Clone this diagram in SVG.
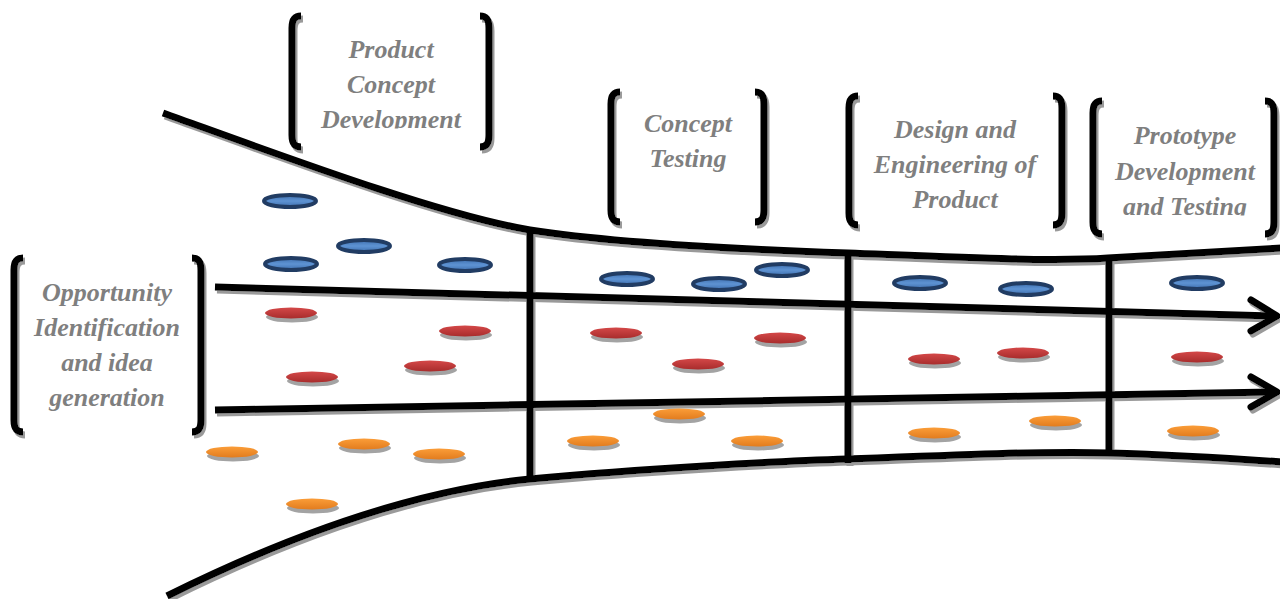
<svg xmlns="http://www.w3.org/2000/svg" width="1280" height="599" viewBox="0 0 1280 599">
  <style>
    .ln { fill: none; stroke: #000; stroke-width: 7; stroke-linejoin: round; }
    .br { fill: none; stroke: #000; stroke-width: 7; stroke-linecap: butt; }
    .lbl { font-family: "Liberation Serif", "Times New Roman", serif; font-size: 26px; font-weight: bold; font-style: italic; fill: #7f7f7f; text-anchor: middle; }
    .blue { fill: url(#gBlue); stroke: #213c63; stroke-width: 4; }
    .red { fill: url(#gRed); }
    .orange { fill: url(#gOrange); }
    .sh { fill: #a3a3a3; }
  </style>
  <defs>
    <filter id="drop" x="-5%" y="-5%" width="110%" height="110%">
      <feDropShadow dx="2" dy="3" stdDeviation="0.7" flood-color="#9a9a9a" flood-opacity="1"/>
    </filter>
    <linearGradient id="gBlue" x1="0" y1="0" x2="0" y2="1">
      <stop offset="0" stop-color="#3e6fae"/>
      <stop offset="0.5" stop-color="#5e93d3"/>
      <stop offset="1" stop-color="#3e6fae"/>
    </linearGradient>
    <linearGradient id="gRed" x1="0" y1="0" x2="0" y2="1">
      <stop offset="0" stop-color="#d44848"/>
      <stop offset="1" stop-color="#a82c2c"/>
    </linearGradient>
    <linearGradient id="gOrange" x1="0" y1="0" x2="0" y2="1">
      <stop offset="0" stop-color="#fb9d38"/>
      <stop offset="1" stop-color="#e27c1e"/>
    </linearGradient>
    <clipPath id="clipPCD"><rect x="280" y="0" width="220" height="128.5"/></clipPath>
    <clipPath id="clipPDT"><rect x="1085" y="90" width="195" height="125.5"/></clipPath>
  </defs>

  <rect width="1280" height="599" fill="#fff"/>

  <!-- funnel walls, stage dividers and flow arrows -->
  <g id="connectors" filter="url(#drop)">
    <path class="ln" d="M163,113 C280,155 440,215 530,230 C620,244 760,250 848,253 C950,257 1050,262 1108,258 C1180,254 1240,250 1282,248"/>
    <path class="ln" d="M167,596 C300,530 420,490 530,479 C640,469 780,461 848,459 C950,455 1050,451 1108,453 C1180,455 1240,459 1282,462"/>
    <line class="ln" x1="530" y1="230" x2="530" y2="482"/>
    <line class="ln" x1="848" y1="252" x2="848" y2="463"/>
    <line class="ln" x1="1109" y1="258" x2="1109" y2="456"/>
    <path class="ln" d="M215,287 L1273,316"/>
    <path class="ln" d="M1251,300 L1277,316 L1251,331" stroke-linecap="round"/>
    <path class="ln" d="M215,410 L1273,392"/>
    <path class="ln" d="M1251,377 L1277,392 L1251,407" stroke-linecap="round"/>
  </g>

  <!-- stage labels in brackets -->
  <g id="opportunity">
    <g filter="url(#drop)">
      <path class="br" d="M23,258 C16,258 14,262 14,270 L14,420 C14,428 16,432 23,432"/>
      <path class="br" d="M192,258 C199,258 201,262 201,270 L201,420 C201,428 199,432 192,432"/>
    </g>
    <text class="lbl" x="107" y="301">Opportunity</text>
    <text class="lbl" x="107" y="336">Identification</text>
    <text class="lbl" x="107" y="371">and idea</text>
    <text class="lbl" x="107" y="406">generation</text>
  </g>

  <g id="product-concept">
    <g filter="url(#drop)">
      <path class="br" d="M301,16 C294,16 292,20 292,28 L292,135 C292,143 294,147 301,147"/>
      <path class="br" d="M480,16 C487,16 489,20 489,28 L489,135 C489,143 487,147 480,147"/>
    </g>
    <g clip-path="url(#clipPCD)">
      <text class="lbl" x="391" y="58">Product</text>
      <text class="lbl" x="391" y="93">Concept</text>
      <text class="lbl" x="391" y="128">Development</text>
    </g>
  </g>

  <g id="concept-testing">
    <g filter="url(#drop)">
      <path class="br" d="M620,92 C613,92 611,96 611,104 L611,210 C611,218 613,222 620,222"/>
      <path class="br" d="M755,92 C762,92 764,96 764,104 L764,210 C764,218 762,222 755,222"/>
    </g>
    <text class="lbl" x="688" y="132">Concept</text>
    <text class="lbl" x="688" y="167">Testing</text>
  </g>

  <g id="design-engineering">
    <g filter="url(#drop)">
      <path class="br" d="M858,96 C851,96 849,100 849,108 L849,213 C849,221 851,225 858,225"/>
      <path class="br" d="M1053,96 C1060,96 1062,100 1062,108 L1062,213 C1062,221 1060,225 1053,225"/>
    </g>
    <text class="lbl" x="955" y="138">Design and</text>
    <text class="lbl" x="955" y="173">Engineering of</text>
    <text class="lbl" x="955" y="208">Product</text>
  </g>

  <g id="prototype">
    <g filter="url(#drop)">
      <path class="br" d="M1102,101 C1095,101 1093,105 1093,113 L1093,222 C1093,230 1095,234 1102,234"/>
      <path class="br" d="M1265,101 C1272,101 1274,105 1274,113 L1274,222 C1274,230 1272,234 1265,234"/>
    </g>
    <g clip-path="url(#clipPDT)">
      <text class="lbl" x="1185" y="144">Prototype</text>
      <text class="lbl" x="1185" y="180">Development</text>
      <text class="lbl" x="1185" y="215">and Testing</text>
    </g>
  </g>

  <!-- ideas flowing through the funnel -->
  <g id="ideas-blue">
    <ellipse class="blue" cx="290" cy="201" rx="26" ry="6"/>
    <ellipse class="blue" cx="364" cy="246" rx="26" ry="6"/>
    <ellipse class="blue" cx="291" cy="264" rx="26" ry="6"/>
    <ellipse class="blue" cx="465" cy="265" rx="26" ry="6"/>
    <ellipse class="blue" cx="627" cy="279" rx="26" ry="6"/>
    <ellipse class="blue" cx="719" cy="284" rx="26" ry="6"/>
    <ellipse class="blue" cx="782" cy="270" rx="26" ry="6"/>
    <ellipse class="blue" cx="920" cy="283" rx="26" ry="6"/>
    <ellipse class="blue" cx="1026" cy="289" rx="26" ry="6"/>
    <ellipse class="blue" cx="1197" cy="283" rx="26" ry="6"/>
  </g>

  <g id="ideas-red">
    <g class="sh">
      <ellipse cx="292" cy="317" rx="26" ry="5.5"/>
      <ellipse cx="466" cy="335" rx="26" ry="5.5"/>
      <ellipse cx="313" cy="381" rx="26" ry="5.5"/>
      <ellipse cx="431" cy="370" rx="26" ry="5.5"/>
      <ellipse cx="617" cy="337" rx="26" ry="5.5"/>
      <ellipse cx="699" cy="368" rx="26" ry="5.5"/>
      <ellipse cx="781" cy="342" rx="26" ry="5.5"/>
      <ellipse cx="935" cy="363" rx="26" ry="5.5"/>
      <ellipse cx="1024" cy="357" rx="26" ry="5.5"/>
      <ellipse cx="1198" cy="361" rx="26" ry="5.5"/>
    </g>
    <ellipse class="red" cx="291" cy="313" rx="26" ry="5.5"/>
    <ellipse class="red" cx="465" cy="331" rx="26" ry="5.5"/>
    <ellipse class="red" cx="312" cy="377" rx="26" ry="5.5"/>
    <ellipse class="red" cx="430" cy="366" rx="26" ry="5.5"/>
    <ellipse class="red" cx="616" cy="333" rx="26" ry="5.5"/>
    <ellipse class="red" cx="698" cy="364" rx="26" ry="5.5"/>
    <ellipse class="red" cx="780" cy="338" rx="26" ry="5.5"/>
    <ellipse class="red" cx="934" cy="359" rx="26" ry="5.5"/>
    <ellipse class="red" cx="1023" cy="353" rx="26" ry="5.5"/>
    <ellipse class="red" cx="1197" cy="357" rx="26" ry="5.5"/>
  </g>

  <g id="ideas-orange">
    <g class="sh">
      <ellipse cx="233" cy="456" rx="26" ry="5.5"/>
      <ellipse cx="365" cy="448" rx="26" ry="5.5"/>
      <ellipse cx="440" cy="458" rx="26" ry="5.5"/>
      <ellipse cx="313" cy="508" rx="26" ry="5.5"/>
      <ellipse cx="594" cy="445" rx="26" ry="5.5"/>
      <ellipse cx="680" cy="418" rx="26" ry="5.5"/>
      <ellipse cx="758" cy="445" rx="26" ry="5.5"/>
      <ellipse cx="935" cy="437" rx="26" ry="5.5"/>
      <ellipse cx="1056" cy="425" rx="26" ry="5.5"/>
      <ellipse cx="1194" cy="435" rx="26" ry="5.5"/>
    </g>
    <ellipse class="orange" cx="232" cy="452" rx="26" ry="5.5"/>
    <ellipse class="orange" cx="364" cy="444" rx="26" ry="5.5"/>
    <ellipse class="orange" cx="439" cy="454" rx="26" ry="5.5"/>
    <ellipse class="orange" cx="312" cy="504" rx="26" ry="5.5"/>
    <ellipse class="orange" cx="593" cy="441" rx="26" ry="5.5"/>
    <ellipse class="orange" cx="679" cy="414" rx="26" ry="5.5"/>
    <ellipse class="orange" cx="757" cy="441" rx="26" ry="5.5"/>
    <ellipse class="orange" cx="934" cy="433" rx="26" ry="5.5"/>
    <ellipse class="orange" cx="1055" cy="421" rx="26" ry="5.5"/>
    <ellipse class="orange" cx="1193" cy="431" rx="26" ry="5.5"/>
  </g>
</svg>
